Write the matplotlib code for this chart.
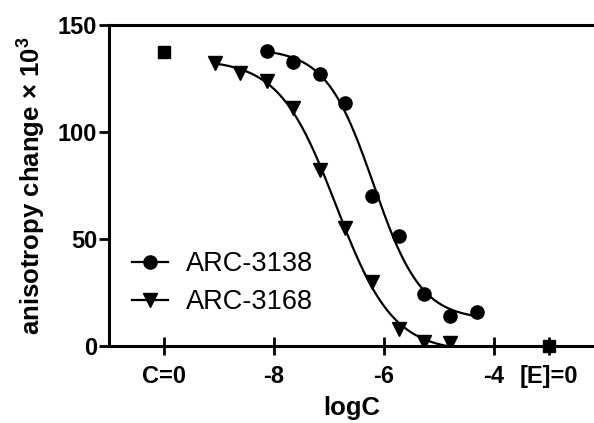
import numpy as np
import matplotlib
matplotlib.use("Agg")
import matplotlib.pyplot as plt

plt.rcParams['font.family'] = ['Liberation Sans', 'DejaVu Sans']
plt.rcParams['mathtext.fontset'] = 'custom'
plt.rcParams['mathtext.rm'] = 'Liberation Sans'
plt.rcParams['mathtext.bf'] = 'Liberation Sans:bold'

# Binding data: log concentration vs anisotropy change (x 10^3)
logc_3138 = [-8.12, -7.65, -7.17, -6.70, -6.21, -5.73, -5.27, -4.79, -4.30]
aniso_3138 = [138.0, 132.6, 127.1, 113.4, 70.1, 51.4, 24.3, 14.0, 16.0]

logc_3168 = [-9.07, -8.61, -8.12, -7.65, -7.17, -6.70, -6.21, -5.73, -5.27, -4.79]
aniso_3168 = [132.4, 127.4, 123.8, 111.1, 82.2, 55.0, 30.1, 7.8, 2.0, 1.5]

# Controls: no competitor (C=0) and no enzyme ([E]=0)
control_x = [-10, -3]
control_y = [137.5, 0.0]

xtick_pos = [-10, -8, -6, -4, -3]
xtick_labels = ['C=0', '-8', '-6', '-4', '[E]=0']
ytick_pos = [0, 50, 100, 150]


def fit_logistic(x, y):
    """Four-parameter logistic fit: grid over logIC50/Hill, linear solve for top/bottom."""
    x = np.asarray(x)
    y = np.asarray(y)
    best = None
    for lic in np.linspace(-9, -4, 501):
        for h in np.linspace(0.4, 2.5, 211):
            f = 1.0 / (1.0 + 10 ** ((x - lic) * h))
            A = np.column_stack([np.ones_like(f) - f, f])
            coef, *_ = np.linalg.lstsq(A, y, rcond=None)
            r = np.sum((A @ coef - y) ** 2)
            if best is None or r < best[0]:
                best = (r, coef[0], coef[1], lic, h)
    _, bottom, top, lic, h = best
    return lambda xx: bottom + (top - bottom) / (1.0 + 10 ** ((xx - lic) * h))


fig = plt.figure(figsize=(5.94, 4.23), dpi=100)
ax = fig.add_axes([0.1835, 0.182, 0.8165, 0.759])

for xs, ys, mk, lab in [(logc_3138, aniso_3138, 'o', 'ARC-3138'),
                        (logc_3168, aniso_3168, 'v', 'ARC-3168')]:
    curve = fit_logistic(xs, ys)
    xx = np.linspace(min(xs), max(xs), 300)
    ax.plot(xx, curve(xx), color='black', lw=1.6, zorder=2)
    ax.plot(xs, ys, linestyle='none', marker=mk, ms=9.5, color='black', zorder=3)
    ax.plot([], [], color='black', lw=1.6, marker=mk, ms=9.5, label=lab)

ax.plot(control_x, control_y, linestyle='none', marker='s', ms=9.0,
        color='black', zorder=4, clip_on=False)

ax.set_xlim(-11, -2.18)
ax.set_ylim(0, 150)
ax.set_xticks(xtick_pos)
ax.set_xticklabels(xtick_labels)
ax.set_yticks(ytick_pos)

for s in ['left', 'bottom', 'top']:
    ax.spines[s].set_linewidth(2.2)
ax.spines['right'].set_visible(False)

ax.tick_params(axis='x', direction='inout', length=13, width=2, pad=7,
               labelsize=17)
ax.tick_params(axis='y', direction='out', length=7, width=2, pad=1.5,
               labelsize=17)
for t in ax.get_xticklabels() + ax.get_yticklabels():
    t.set_fontweight('bold')

ax.set_xlabel('logC', fontsize=18.5, fontweight='bold', labelpad=6)
ax.set_ylabel(r'anisotropy change × 10$^{\mathbf{3}}$', fontsize=18.5,
              fontweight='bold', labelpad=8)

leg = ax.legend(loc='upper left', bbox_to_anchor=(0.047, 0.296), frameon=False,
                fontsize=19.5, handlelength=1.35, handletextpad=0.65,
                labelspacing=0.45, borderpad=0, borderaxespad=0)

fig.savefig('out.png', dpi=100)
